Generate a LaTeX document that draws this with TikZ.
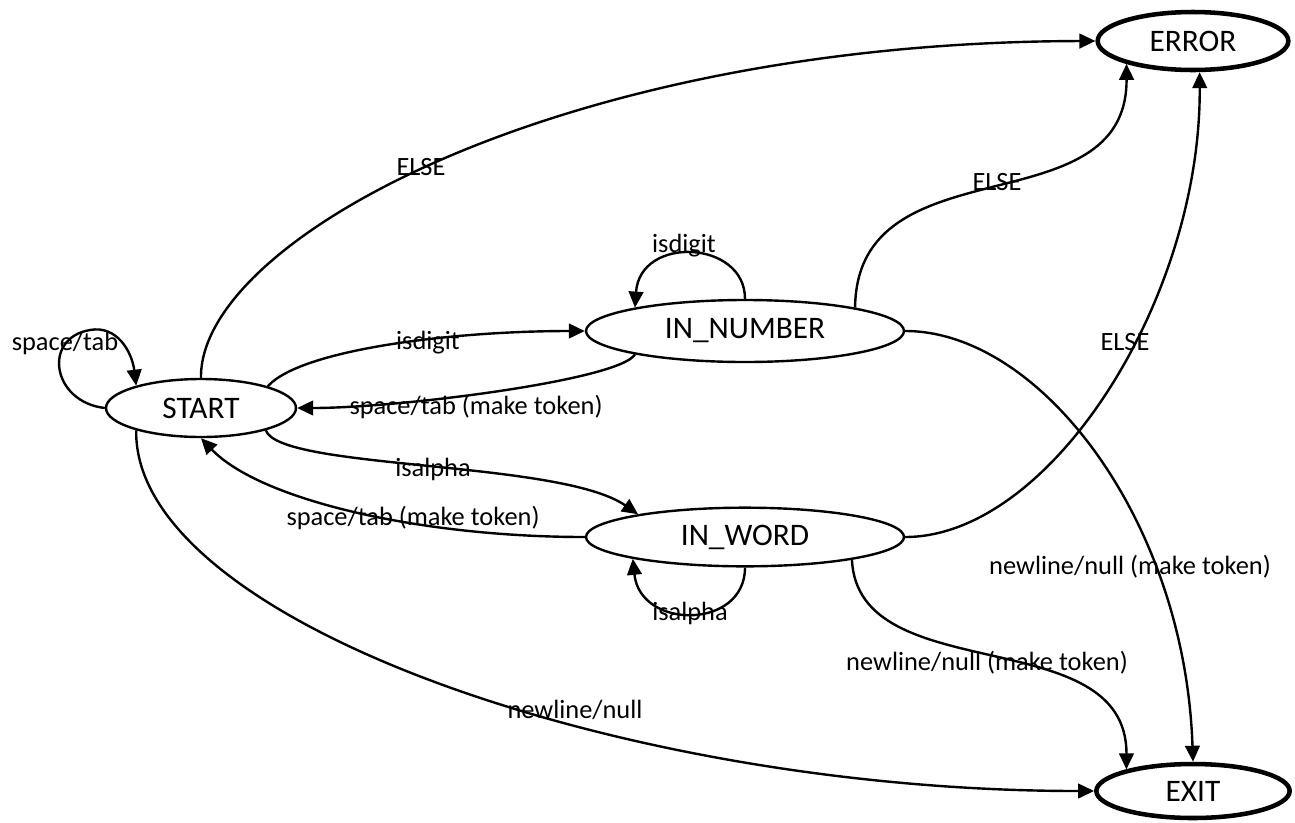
\documentclass[tikz,border=0pt]{standalone}
\usepackage{fontspec}
\setmainfont{Carlito}
\usetikzlibrary{arrows.meta,shapes.geometric}
\begin{document}
\begin{tikzpicture}[x=0.75pt,y=-0.75pt,
  state/.style={ellipse, draw, line width=1.8pt, inner sep=0pt, font=\fontsize{23.5}{26}\selectfont},
  final/.style={state, line width=3.4pt},
  lab/.style={font=\fontsize{19.8}{22}\selectfont, inner sep=0pt},
  tr/.style={line width=1.8pt, -{Triangle[length=12pt,width=11pt]}}]
\useasboundingbox (0,0) rectangle (1295,822);

% states
\node[state, minimum width=142.5pt, minimum height=43.5pt] (start) at (201,408) {START};
\node[state, minimum width=238.5pt, minimum height=46.5pt] (innum) at (745,331) {IN\_NUMBER};
\node[state, minimum width=238.5pt, minimum height=44pt] (inword) at (745,537) {IN\_WORD};
\node[final, minimum width=143pt, minimum height=43.5pt] (error) at (1193,41) {ERROR};
\node[final, minimum width=145pt, minimum height=40.5pt] (exit) at (1193,791) {EXIT};

% connectors
\draw[tr] (start.west) .. controls (52,402) and (42,338) .. (90,330)
          .. controls (117,325) and (132,352) .. (start.161);
\draw[tr] (start.north) .. controls (199,240) and (560,42) .. (error.west);
\draw[tr] (start.18) .. controls (300,350) and (450,331) .. (innum.west);
\draw[tr] (innum.192) .. controls (620,380) and (400,408) .. (start.east);
\draw[tr] (start.341) .. controls (280,470) and (560,460) .. (inword.168);
\draw[tr] (inword.west) .. controls (420,537) and (260,500) .. (start.south);
\draw[tr] (innum.north) .. controls (745,240) and (640,235) .. (innum.168);
\draw[tr] (inword.south) .. controls (745,630) and (640,630) .. (inword.191);
\draw[tr] (innum.12) .. controls (857,140) and (1127,230) .. (error.199);
\draw[tr] (inword.east) .. controls (1050,537) and (1201,300) .. (error.282);
\draw[tr] (innum.east) .. controls (1040,331) and (1185,520) .. (exit.north);
\draw[tr] (inword.348) .. controls (858,690) and (1127,620) .. (exit.162);
\draw[tr] (start.199) .. controls (133,620) and (620,791) .. (exit.west);

% labels
\node[lab] (l1) at (65,343) {space/tab};
\node[lab] (l2) at (421,167) {ELSE};
\node[lab] (l3) at (428,343) {isdigit};
\node[lab] (l4) at (476,407) {space/tab (make token)};
\node[lab] (l5) at (433,469) {isalpha};
\node[lab] (l6) at (413,518) {space/tab (make token)};
\node[lab] (l7) at (684,246) {isdigit};
\node[lab] (l8) at (690,613) {isalpha};
\node[lab] (l9) at (997,182) {ELSE};
\node[lab] (l10) at (1125,342) {ELSE};
\node[lab] (l11) at (1130,567) {newline/null (make token)};
\node[lab] (l12) at (987,663) {newline/null (make token)};
\node[lab] (l13) at (575,710) {newline/null};
\end{tikzpicture}
\end{document}
